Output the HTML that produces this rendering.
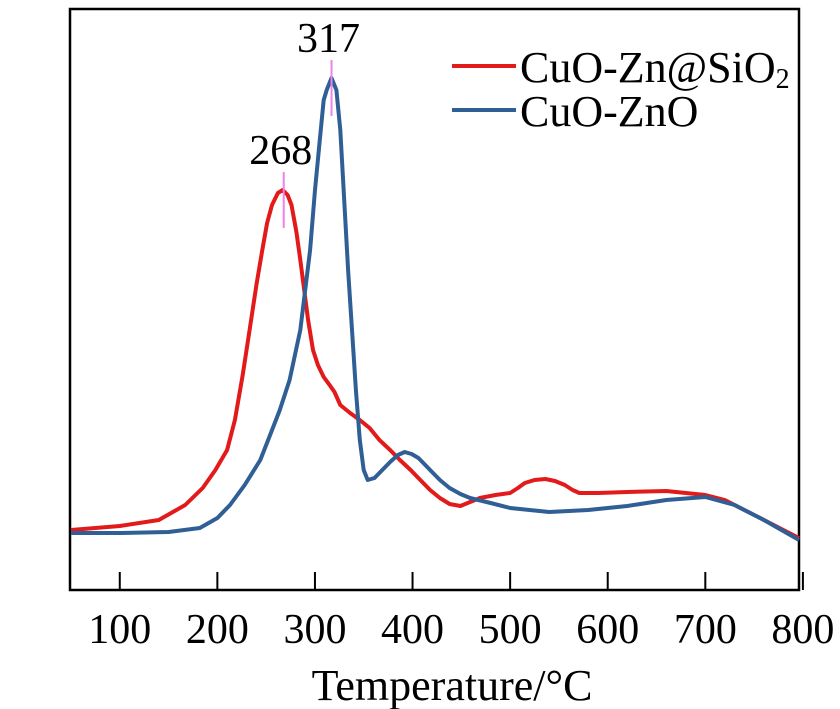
<!DOCTYPE html>
<html><head><meta charset="utf-8"><style>
html,body{margin:0;padding:0;background:#fff;}
svg{display:block;font-family:"Liberation Serif",serif;}
</style></head><body>
<svg id="chart" width="840" height="709">
<rect x="70" y="9" width="729" height="581" fill="none" stroke="#000" stroke-width="2.5"/>
<g id="ticks"></g>
<g id="series"></g>
<text x="452" y="700" font-size="44" text-anchor="middle">Temperature/°C</text>
<g>
<line x1="452" y1="66" x2="516" y2="66" stroke="#e31a1a" stroke-width="4"/>
<text x="520" y="82" font-size="44">CuO-Zn@SiO<tspan font-size="28" dy="6">2</tspan></text>
<line x1="452" y1="110" x2="516" y2="110" stroke="#2f5f95" stroke-width="4"/>
<text x="520" y="126" font-size="44">CuO-ZnO</text>
</g>
</svg>
<script>
const xTicks=[100,200,300,400,500,600,700,800];
const redT=[50,100,140,167,185,198,210,218,226,233,240,246,251,256,262,267,272,276,281,285,289,293,298,303,309,315,320,326,336,346,356,366,377,387,398,408,418,428,438,449,459,469,485,500,508,515,525,536,546,556,564,571,590,620,660,700,720,750,780,796];
const redV=[60,64,70,85,102,120,140,170,215,260,305,340,367,385,397,400,395,385,358,330,300,270,240,225,213,205,198,185,177,170,162,150,140,130,120,110,100,92,86,84,88,92,95,97,102,107,110,111,109,105,100,97,97,98,99,95,90,75,60,52];
const blueT=[50,100,150,182,200,213,228,244,254,264,274,285,290,295,300,305,309,312,317,322,326,330,334,338,342,346,350,354,361,369,377,385,392,399,406,412,418,428,438,449,459,480,500,540,580,620,660,700,730,760,796];
const blueV=[57,57,58,62,72,85,105,130,155,180,210,260,300,340,400,450,490,500,512,500,460,390,320,260,200,150,120,110,112,120,128,135,138,136,132,126,120,110,102,96,92,87,82,78,80,84,90,93,85,70,50];
const peakLabels=[268,317];
const peakVals=[400,512];
const ns="http://www.w3.org/2000/svg";
const X0=49,X1=796,PX0=70,PX1=799,PY0=590;
function sx(t){return PX0+(t-X0)*(PX1-PX0)/(X1-X0);}
function sy(v){return PY0-v;}
const tg=document.getElementById('ticks'),sg=document.getElementById('series');
xTicks.forEach(t=>{
 const l=document.createElementNS(ns,'line');
 l.setAttribute('x1',sx(t));l.setAttribute('x2',sx(t));l.setAttribute('y1',572);l.setAttribute('y2',590);
 l.setAttribute('stroke','#000');l.setAttribute('stroke-width','2');
 
 
 tg.appendChild(l);
 const tx=document.createElementNS(ns,'text');
 tx.setAttribute('x',Math.min(sx(t),805));tx.setAttribute('y',643);tx.setAttribute('font-size','42');tx.setAttribute('text-anchor','middle');
 tx.textContent=t;
 
 
 tg.appendChild(tx);
});
function drawLine(T,V,color,name){
 const p=document.createElementNS(ns,'path');
 let d='';T.forEach((t,i)=>{d+=(i?'L':'M')+sx(t).toFixed(1)+','+sy(V[i]).toFixed(1);});
 p.setAttribute('d',d);p.setAttribute('fill','none');p.setAttribute('stroke',color);p.setAttribute('stroke-width','4');p.setAttribute('stroke-linejoin','round');
 
 
 sg.appendChild(p);
}
drawLine(redT,redV,'#e31a1a','series-cuo-zn-sio2');
drawLine(blueT,blueV,'#2f5f95','series-cuo-zno');
peakLabels.forEach((t,i)=>{
 const y=sy(peakVals[i]);
 const l=document.createElementNS(ns,'line');
 l.setAttribute('x1',sx(t));l.setAttribute('x2',sx(t));l.setAttribute('y1',y-18);l.setAttribute('y2',y+38);
 l.setAttribute('stroke','#ee82ee');l.setAttribute('stroke-width','2');
 
 
 sg.appendChild(l);
 const tx=document.createElementNS(ns,'text');
 tx.setAttribute('x',sx(t)-3);tx.setAttribute('y',y-26);tx.setAttribute('font-size','42');tx.setAttribute('text-anchor','middle');
 tx.textContent=t;
 
 
 sg.appendChild(tx);
});
</script>
</body></html>
